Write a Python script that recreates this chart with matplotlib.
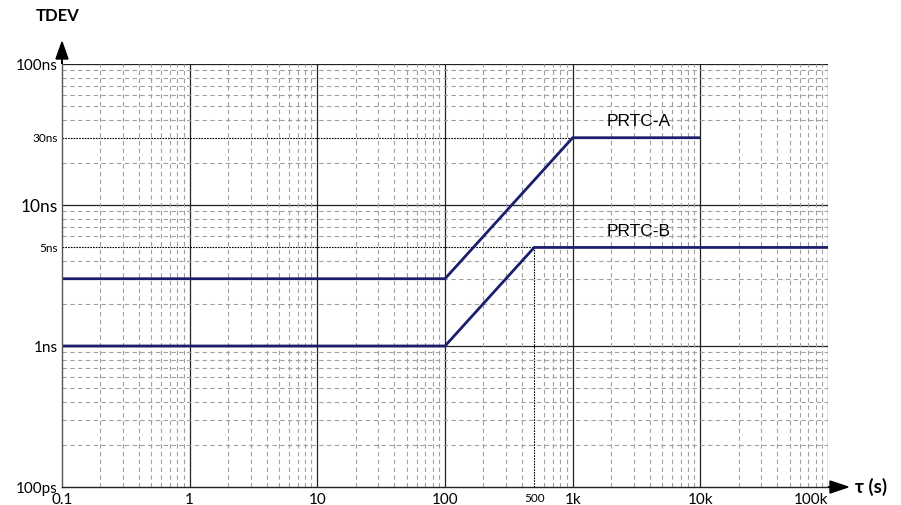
import matplotlib
matplotlib.use("Agg")
import matplotlib.pyplot as plt
from matplotlib.ticker import LogLocator, NullFormatter

# TDEV masks (tau in seconds, TDEV in ns)
prtc_a_tau = [0.1, 100, 1000, 10000]
prtc_a_tdev = [3, 3, 30, 30]
prtc_b_tau = [0.1, 100, 500, 100000]
prtc_b_tdev = [1, 1, 5, 5]

x_ticks = [0.1, 1, 10, 100, 500, 1000, 10000, 100000]
x_labels = ["0.1", "1", "10", "100", "500", "1k", "10k", "100k"]
y_ticks = [0.1, 1, 5, 10, 30, 100]
y_labels = ["100ps", "1ns", "5ns", "10ns", "30ns", "100ns"]

navy = "#1b1f6b"
label_font = "Lato"

fig = plt.figure(figsize=(9.01, 5.05), dpi=100)
ax = fig.add_axes([62 / 901, 1 - 487 / 505, (828 - 62) / 901, (487 - 64) / 505])
ax.set_xscale("log")
ax.set_yscale("log")
ax.set_xlim(0.1, 100000)
ax.set_ylim(0.1, 100)

# grid: solid decades, dashed sub-decades
ax.xaxis.set_minor_locator(LogLocator(base=10, subs=range(2, 10), numticks=20))
ax.yaxis.set_minor_locator(LogLocator(base=10, subs=range(2, 10), numticks=20))
ax.xaxis.set_minor_formatter(NullFormatter())
ax.yaxis.set_minor_formatter(NullFormatter())
for v in [1, 10, 100, 1000, 10000, 100000]:
    ax.axvline(v, color="#222222", lw=0.9, zorder=1)
for v in [1, 10, 100]:
    ax.axhline(v, color="#222222", lw=0.9, zorder=1)
ax.grid(which="minor", color="#a0a0a0", lw=0.8, ls=(0, (4, 3)), zorder=0)

# reference lines
ax.plot([0.1, 1000], [30, 30], color="black", lw=0.8, ls=(0, (1.5, 1)), zorder=2)
ax.plot([0.1, 500], [5, 5], color="black", lw=0.8, ls=(0, (1.5, 1)), zorder=2)
ax.plot([500, 500], [0.1, 5], color="black", lw=0.8, ls=(0, (1.5, 1)), zorder=2)

# masks
ax.plot(prtc_a_tau, prtc_a_tdev, color=navy, lw=2.0, zorder=3, solid_capstyle="butt")
ax.plot(prtc_b_tau, prtc_b_tdev, color=navy, lw=2.0, zorder=3, solid_capstyle="butt")
ax.text(3300, 39, "PRTC-A", fontsize=12.5, family="Liberation Sans", ha="center", va="center")
ax.text(3300, 6.5, "PRTC-B", fontsize=12.5, family="Liberation Sans", ha="center", va="center")

# ticks and labels
ax.set_xticks(x_ticks)
ax.set_xticklabels(x_labels, family=label_font)
ax.set_yticks(y_ticks)
ax.set_yticklabels(y_labels, family=label_font)
ax.tick_params(which="both", length=0)
ax.tick_params(axis="x", pad=4)
ax.tick_params(axis="y", pad=3)
xsizes = {"500": 8.5}
for lab in ax.get_xticklabels():
    lab.set_fontsize(xsizes.get(lab.get_text(), 11))
    if lab.get_text() == "100k":
        lab.set_horizontalalignment("right")
ysizes = {"5ns": 8.5, "30ns": 8.5, "10ns": 12.5}
for lab in ax.get_yticklabels():
    lab.set_fontsize(ysizes.get(lab.get_text(), 11))

for s in ["top", "right"]:
    ax.spines[s].set_visible(False)
ax.spines["left"].set_color("#555555")
ax.spines["bottom"].set_color("#222222")
ax.spines["left"].set_linewidth(1.0)
ax.spines["bottom"].set_linewidth(1.0)
ax.spines["left"].set_zorder(4)
ax.spines["bottom"].set_zorder(4)

# axis arrows
fig.patches.append(matplotlib.patches.FancyArrow(
    62 / 901, 1 - 64 / 505, 0, 22 / 505, width=0.0, head_width=12 / 901,
    head_length=17 / 505, length_includes_head=True, color="black",
    transform=fig.transFigure, figure=fig))
fig.patches.append(matplotlib.patches.FancyArrow(
    828 / 901, 1 - 487 / 505, 20 / 901, 0, width=0.0, head_width=12 / 505,
    head_length=18 / 901, length_includes_head=True, color="black",
    transform=fig.transFigure, figure=fig))

fig.text(36 / 901, 1 - 16 / 505, "TDEV", fontsize=12, fontweight="bold",
         family=label_font, ha="left", va="center")
fig.text(855 / 901, 1 - 487 / 505, "τ (s)", fontsize=13.5, fontweight="bold",
         family=["Lato", "DejaVu Sans"], ha="left", va="center")

fig.savefig("out.png", dpi=100)
